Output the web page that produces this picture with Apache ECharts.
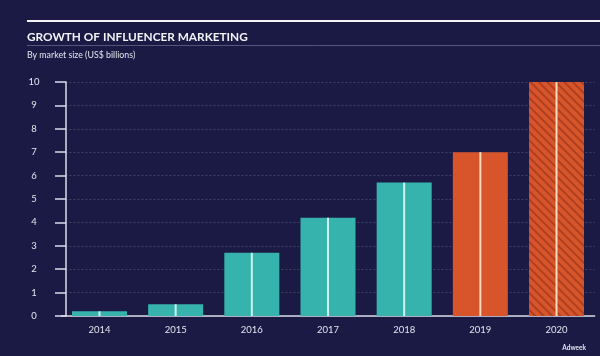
<!DOCTYPE html>
<html><head><meta charset="utf-8">
<script src="https://cdn.jsdelivr.net/npm/echarts@6/dist/echarts.min.js"></script>
<style>html,body{margin:0;padding:0;background:#1b1a45;}#c{width:600px;height:356px;}</style>
</head><body><div id="c"></div>
<script>
const categories = ['2014','2015','2016','2017','2018','2019','2020'];
const values = [0.2, 0.5, 2.7, 4.2, 5.7, 7.0, 10.0];
const yTicks = [0,1,2,3,4,5,6,7,8,9,10];
const title = 'GROWTH OF INFLUENCER MARKETING';
const subtitle = 'By market size (US$ billions)';
const source = 'Adweek';

const TEAL = '#37b3ad', ORANGE = '#d8542a';
const isForecast = c => c === '2019' || c === '2020';
const hatched = c => c === '2020';

const chart = echarts.init(document.getElementById('c'));
const font = 'Lato';
chart.setOption({
  backgroundColor: '#1b1a45',
  animation: false,
  title: [
    { text: title, left: 22, top: 26, textStyle: { color: '#f2f2f6', fontSize: 11.8, fontWeight: 'bold', fontFamily: font } },
    { text: subtitle, left: 22, top: 46, textStyle: { color: '#e4e4ee', fontSize: 8.8, fontWeight: 'normal', fontFamily: font } },
    { text: source, right: 9, top: 339, textStyle: { color: '#e4e4ee', fontSize: 6.5, fontWeight: 'bold', fontFamily: font } }
  ],
  graphic: [
    { type: 'line', shape: { x1: 27, y1: 21, x2: 600, y2: 21 }, style: { stroke: '#f4f4f8', lineWidth: 2 } },
    { type: 'line', shape: { x1: 27, y1: 45.5, x2: 600, y2: 45.5 }, style: { stroke: '#55557e', lineWidth: 1 } }
  ],
  grid: { left: 61.4, right: 5.4, top: 82, bottom: 40 },
  xAxis: [
    { type: 'category', data: categories,
      axisLine: { lineStyle: { color: '#dcdce8', width: 1.5 } },
      axisTick: { show: false },
      axisLabel: { color: '#e4e4ee', fontSize: 9.5, fontFamily: font, margin: 9 } },
    { type: 'category', data: categories, show: false }
  ],
  yAxis: {
    type: 'value', min: 0, max: 10, interval: 1, offset: -4.6,
    axisLine: { show: true, lineStyle: { color: '#dcdce8', width: 1.5 } },
    axisTick: { show: true, length: 11, lineStyle: { color: '#dcdce8', width: 1.5 } },
    axisLabel: { color: '#e4e4ee', fontSize: 9.5, fontFamily: font, align: 'center', margin: 32,
      formatter: v => yTicks.includes(v) ? String(v) : '' },
    splitLine: { lineStyle: { color: 'rgba(200,200,230,0.22)', type: [2, 2], width: 1 } }
  },
  series: [
    { type: 'bar', barWidth: 55, xAxisIndex: 0,
      data: values.map((v, i) => {
        const st = { color: isForecast(categories[i]) ? ORANGE : TEAL };
        if (hatched(categories[i])) st.decal = { symbol: 'rect', symbolSize: 1, rotation: Math.PI / 4, dashArrayX: [[1, 0]], dashArrayY: [1.2, 3.5], color: 'rgba(110,35,20,0.4)' };
        return { value: v, itemStyle: st };
      }) },
    { type: 'bar', barWidth: 2, xAxisIndex: 1, z: 3,
      data: values.map((v, i) => ({ value: v, itemStyle: { color: isForecast(categories[i]) ? '#f5dcb8' : '#cdf3f0' } })) }
  ]
});
</script></body></html>
